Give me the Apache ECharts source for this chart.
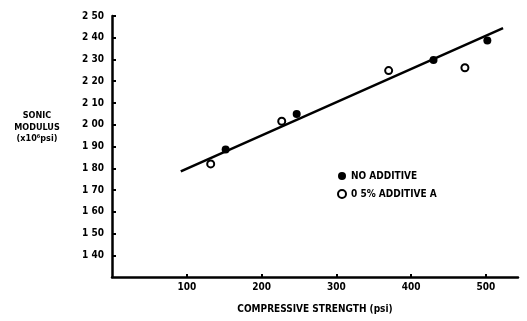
<!DOCTYPE html>
<html>
<head>
<meta charset="UTF-8">
<title>Sonic modulus</title>
<style>
	* { margin: 0; padding: 0; }
	html, body { width: 100%; height: 100%; background: #fff; overflow: hidden; }
	#chart { width: 527px; height: 321px; }
</style>
</head>
<body>
<div id="chart"></div>
<script src="https://cdn.jsdelivr.net/npm/echarts@6/dist/echarts.min.js"></script>
<script>
	var font = "'DejaVu Sans Condensed', 'Liberation Sans Narrow', sans-serif";
	// data
	var noAdditive = [[152, 1.886], [247, 2.05], [430, 2.298], [502, 2.387]];
	var additiveA = [[132, 1.82], [227, 2.016], [370, 2.249], [472, 2.262]];
	var fitLine = [[92, 1.786], [523, 2.444]];
	var xTicks = [100, 200, 300, 400, 500];
	var yTicks = [1.4, 1.5, 1.6, 1.7, 1.8, 1.9, 2.0, 2.1, 2.2, 2.3, 2.4, 2.5];

	var chart = echarts.init(document.getElementById('chart'));
	var option = {
		backgroundColor: '#fff',
		animation: false,
		textStyle: { fontFamily: font },
		grid: { left: 112, right: 9, top: 16, bottom: 44 },
		legend: {
			left: 332, top: 166,
			orient: 'vertical',
			itemWidth: 8, itemHeight: 8, itemGap: 8,
			textStyle: { fontSize: 10, fontWeight: 'bold', color: '#000', fontFamily: font },
			data: [
				{ name: 'NO ADDITIVE', icon: 'circle' },
				{ name: '0 5% ADDITIVE A', icon: 'emptyCircle' }
			]
		},
		xAxis: {
			type: 'value', min: 0, max: 543,
			name: 'COMPRESSIVE STRENGTH (psi)',
			nameLocation: 'middle', nameGap: 27,
			nameTextStyle: { fontSize: 10, fontWeight: 'bold', color: '#000' },
			interval: 100,
			axisLine: { lineStyle: { color: '#000', width: 2.5 } },
			axisTick: { inside: true, length: 3, lineStyle: { color: '#000', width: 2 },
				customValues: xTicks },
			axisLabel: { fontSize: 10, fontWeight: 'bold', color: '#000', margin: 5,
				customValues: xTicks },
			splitLine: { show: false }
		},
		yAxis: {
			type: 'value', min: 1.3, max: 2.5,
			axisLine: { show: true, lineStyle: { color: '#000', width: 2.5 } },
			axisTick: { inside: true, length: 4, lineStyle: { color: '#000', width: 2 },
				customValues: yTicks },
			axisLabel: { fontSize: 10, fontWeight: 'bold', color: '#000', margin: 8,
				customValues: yTicks,
				formatter: function (v) { return v.toFixed(2).replace('.', ' '); } },
			splitLine: { show: false }
		},
		graphic: [{
			type: 'text', x: 37, y: 110,
			style: { text: 'SONIC\nMODULUS\n(x10⁶psi)', textAlign: 'center', align: 'center',
				textVerticalAlign: 'top', fill: '#000',
				font: 'bold 9px ' + font, lineHeight: 11.5 }
		}],
		series: [{
			name: 'fit', type: 'line', data: fitLine, showSymbol: false, silent: true,
			lineStyle: { color: '#000', width: 2.5 }
		}, {
			name: 'NO ADDITIVE', type: 'scatter', data: noAdditive,
			symbol: 'circle', symbolSize: 8,
			itemStyle: { color: '#000', opacity: 1 }
		}, {
			name: '0 5% ADDITIVE A', type: 'scatter', data: additiveA,
			symbol: 'emptyCircle', symbolSize: 7,
			itemStyle: { color: '#000', borderWidth: 1.8, opacity: 1 }
		}]
	};
	chart.setOption(option);
</script>
</body>
</html>
